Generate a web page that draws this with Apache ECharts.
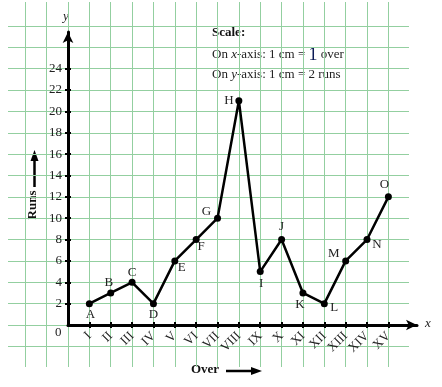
<!DOCTYPE html>
<html>
<head>
<meta charset="utf-8">
<script src="https://cdn.jsdelivr.net/npm/echarts@6/dist/echarts.min.js"></script>
<style>html,body{margin:0;padding:0;background:#fff}#c{width:442px;height:387px}</style>
</head>
<body>
<div id="c"></div>
<script>
// ---- data ----
const overs = ['I','II','III','IV','V','VI','VII','VIII','IX','X','XI','XII','XIII','XIV','XV'];
const runs = [2, 3, 4, 2, 6, 8, 10, 21, 5, 8, 3, 2, 6, 8, 12];
const pointNames = ['A','B','C','D','E','F','G','H','I','J','K','L','M','N','O'];
const yTickValues = [2, 4, 6, 8, 10, 12, 14, 16, 18, 20, 22, 24];
const xTickValues = [1, 2, 3, 4, 5, 6, 7, 8, 9, 10, 11, 12, 13, 14, 15];

// ---- style: label offsets (px) ----
const labelOffsets = [[1,11],[-2,-10],[0,-10],[0,11],[7,7],[5,7],[-11,-7],[-10,0],[1,12],[0,-13],[-3,12],[10,4],[-12,-7],[10,5],[-4,-12]];

const FONT = 'Liberation Serif';
const GREEN = '#93cfa0';

const seriesData = runs.map((r, i) => ({
  value: [i + 1, r],
  label: {
    show: true, formatter: pointNames[i], position: 'inside',
    offset: labelOffsets[i], fontFamily: FONT, fontSize: 13, color: '#222'
  }
}));

const chart = echarts.init(document.getElementById('c'), null, {renderer: 'canvas'});
const option = {
  animation: false,
  backgroundColor: '#fff',
  grid: [
    {left: 8, right: 33, top: 26, bottom: 40.6},            // horizontal paper lines
    {left: 25.28, right: 53.6, top: 2, bottom: 20},          // vertical paper lines
    {left: 68, right: 25, top: 32, bottom: 62}                // data
  ],
  xAxis: [
    {gridIndex: 0, type: 'value', min: 0, max: 1, show: false},
    {gridIndex: 1, type: 'value', min: -2, max: 15, interval: 1,
     axisLine: {show: false}, axisTick: {show: false}, axisLabel: {show: false},
     splitLine: {show: true, lineStyle: {color: GREEN, width: 1}}},
    {gridIndex: 2, type: 'value', min: 0, max: 16.34, interval: 1,
     axisLine: {show: true, onZero: false, lineStyle: {color: '#000', width: 3}, symbol: ['none', 'arrow'], symbolSize: [8, 11]},
     axisTick: {show: true, length: 3, lineStyle: {color: '#000', width: 2}, customValues: xTickValues},
     axisLabel: {show: true, customValues: xTickValues, formatter: v => overs[v - 1], rotate: 45, margin: 9,
                 fontFamily: FONT, fontSize: 13, color: '#222'},
     splitLine: {show: false}},
    {gridIndex: 2, type: 'value', min: 0, max: 16.34, interval: 1, position: 'bottom',
     axisLine: {show: false, onZero: false},
     axisTick: {show: true, inside: true, length: 3, lineStyle: {color: '#000', width: 2}, customValues: xTickValues},
     axisLabel: {show: false}, splitLine: {show: false}}
  ],
  yAxis: [
    {gridIndex: 0, type: 'value', min: -2, max: 28, interval: 2,
     axisLine: {show: false}, axisTick: {show: false}, axisLabel: {show: false},
     splitLine: {show: true, lineStyle: {color: GREEN, width: 1}}},
    {gridIndex: 1, type: 'value', min: 0, max: 1, show: false},
    {gridIndex: 2, type: 'value', min: 0, max: 27.43, interval: 2,
     axisLine: {show: true, onZero: false, lineStyle: {color: '#000', width: 3}, symbol: ['none', 'arrow'], symbolSize: [8, 11]},
     axisTick: {show: true, length: 3, lineStyle: {color: '#000', width: 2}, customValues: yTickValues},
     axisLabel: {show: true, customValues: yTickValues, margin: 6, fontFamily: FONT, fontSize: 13, color: '#222'},
     splitLine: {show: false}},
    {gridIndex: 2, type: 'value', min: 0, max: 27.43, interval: 2, position: 'left',
     axisLine: {show: false, onZero: false},
     axisTick: {show: true, inside: true, length: 3, lineStyle: {color: '#000', width: 2}, customValues: yTickValues},
     axisLabel: {show: false}, splitLine: {show: false}}
  ],
  series: [{
    type: 'line', xAxisIndex: 2, yAxisIndex: 2, data: seriesData,
    symbol: 'circle', symbolSize: 7, z: 5,
    lineStyle: {color: '#000', width: 2.5},
    itemStyle: {color: '#000'}
  }],
  graphic: [
    {type: 'text', x: 212, y: 26, style: {text: 'Scale:', font: 'bold 13px "Liberation Serif"', fill: '#111'}},
    {type: 'text', x: 212, y: 46, style: {
      text: 'On {i|x}-axis: 1 cm = {b|1} over', font: '13px "Liberation Serif"', fill: '#222',
      rich: {i: {fontStyle: 'italic', fontFamily: FONT, fontSize: 13, fill: '#222'},
             b: {fontFamily: FONT, fontSize: 18, fill: '#0b1a55'}}
    }},
    {type: 'text', x: 212, y: 68, style: {
      text: 'On {i|y}-axis: 1 cm = 2 runs', font: '13px "Liberation Serif"', fill: '#222',
      rich: {i: {fontStyle: 'italic', fontFamily: FONT, fontSize: 13, fill: '#222'}}
    }},
    {type: 'text', x: 55, y: 326, style: {text: '0', font: '13px "Liberation Serif"', fill: '#222'}},
    {type: 'text', x: 63, y: 10, style: {text: 'y', font: 'italic 13px "Liberation Serif"', fill: '#222'}},
    {type: 'text', x: 425, y: 317, style: {text: 'x', font: 'italic 13px "Liberation Serif"', fill: '#222'}},
    {type: 'text', x: 33, y: 205, rotation: Math.PI / 2,
     style: {text: 'Runs', font: 'bold 13px "Liberation Serif"', fill: '#111', align: 'center', verticalAlign: 'middle'}},
    {type: 'line', shape: {x1: 34.5, y1: 187, x2: 34.5, y2: 158}, style: {stroke: '#000', lineWidth: 2.5}},
    {type: 'polygon', shape: {points: [[34.5, 150], [30.5, 161], [38.5, 161]]}, style: {fill: '#000'}},
    {type: 'text', x: 205, y: 370, style: {text: 'Over', font: 'bold 13px "Liberation Serif"', fill: '#111', align: 'center', verticalAlign: 'middle'}},
    {type: 'line', shape: {x1: 226, y1: 371, x2: 254, y2: 371}, style: {stroke: '#000', lineWidth: 2.5}},
    {type: 'polygon', shape: {points: [[262, 371], [251, 367], [251, 375]]}, style: {fill: '#000'}}
  ]
};
chart.setOption(option);
</script>
</body>
</html>
